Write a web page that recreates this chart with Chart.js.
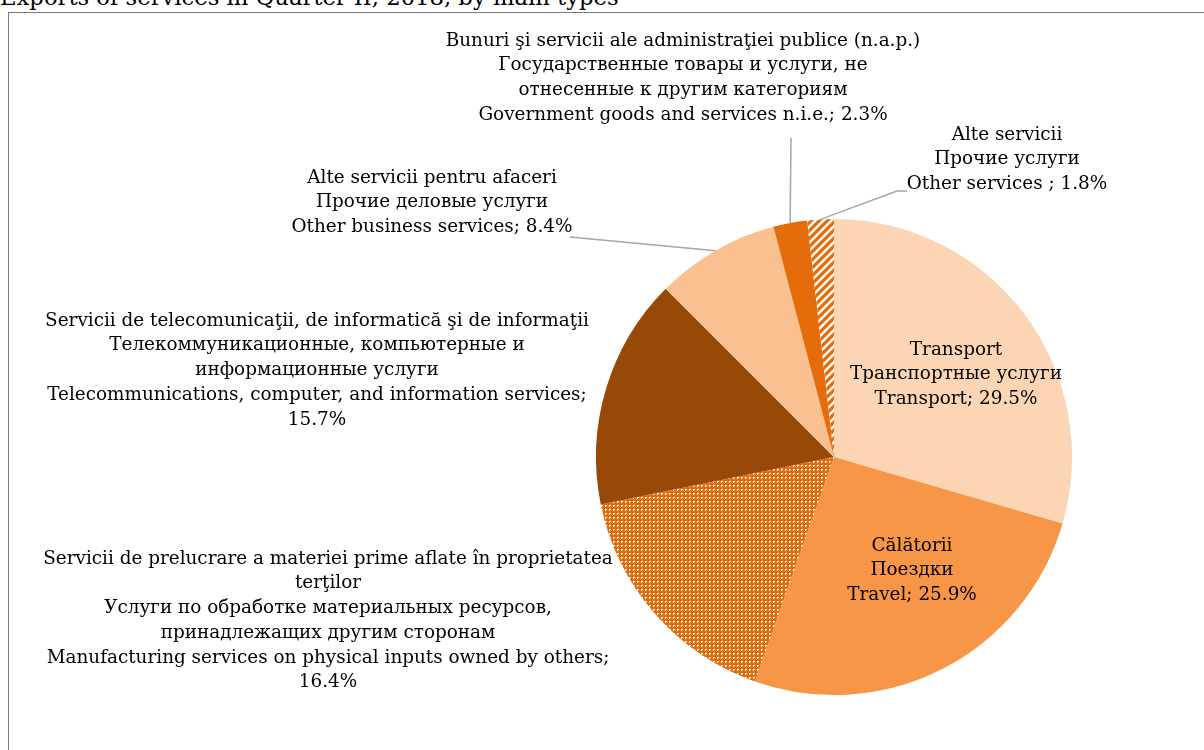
<!DOCTYPE html>
<html>
<head>
<meta charset="utf-8">
<script src="https://cdn.jsdelivr.net/npm/chart.js@4.4.1/dist/chart.umd.min.js"></script>
<style>
  html, body { margin: 0; padding: 0; background: #fff; overflow: hidden; }
  #wrap { position: relative; width: 1204px; height: 750px; }
  #titlu { position: absolute; left: 0; top: -16px; font: 22.7px "DejaVu Serif", serif; color: #000; white-space: nowrap; }
  #rama { position: absolute; left: 8px; top: 12px; width: 1300px; height: 800px; border: 1.5px solid #7a7a7a; box-sizing: border-box; }
  #grafic { position: absolute; left: 0; top: 0; }
</style>
</head>
<body>
<div id="wrap">
  <div id="titlu">Exports of services in Quarter II, 2018, by main types</div>
  <div id="rama"></div>
  <canvas id="grafic" width="1204" height="750"></canvas>
</div>
<script>
// categorii si valori (%)
const categorii = [
    ['Transport', 'Транспортные услуги', 'Transport; 29.5%'],
    ['Călătorii', 'Поездки', 'Travel; 25.9%'],
    ['Servicii de prelucrare a materiei prime aflate în proprietatea', 'terţilor', 'Услуги по обработке материальных ресурсов,', 'принадлежащих другим сторонам', 'Manufacturing services on physical inputs owned by others;', '16.4%'],
    ['Servicii de telecomunicaţii, de informatică şi de informaţii', 'Телекоммуникационные, компьютерные и', 'информационные услуги', 'Telecommunications, computer, and information services;', '15.7%'],
    ['Alte servicii pentru afaceri', 'Прочие деловые услуги', 'Other business services; 8.4%'],
    ['Bunuri şi servicii ale administraţiei publice (n.a.p.)', 'Государственные товары и услуги, не', 'отнесенные к другим категориям', 'Government goods and services n.i.e.; 2.3%'],
    ['Alte servicii', 'Прочие услуги', 'Other services ; 1.8%']
];
const valori = [29.5, 25.9, 16.4, 15.7, 8.4, 2.3, 1.8];

// unde stau etichetele: centru x, y primul rand; linie = punct de plecare al liniei de legatura
const pozEtichete = [
    { x: 956, y: 350 },
    { x: 912, y: 546 },
    { x: 328, y: 559 },
    { x: 317, y: 321 },
    { x: 432, y: 178, linie: [[570, 237]] },
    { x: 683, y: 41, linie: [[791, 138]] },
    { x: 1007, y: 135, linie: [[907, 191], [897, 191]] }
];

const portocaliu = '#E46C0A';

function patternPuncte() {
    const c = document.createElement('canvas');
    c.width = 4; c.height = 4;
    const g = c.getContext('2d');
    g.fillStyle = portocaliu;
    g.fillRect(0, 0, 4, 4);
    g.fillStyle = '#ffffff';
    g.fillRect(1, 1, 2, 1);
    g.fillRect(1, 2, 1, 1);
    return g.createPattern(c, 'repeat');
}

function patternDungi() {
    const c = document.createElement('canvas');
    c.width = 8; c.height = 8;
    const g = c.getContext('2d');
    g.fillStyle = '#ffffff';
    g.fillRect(0, 0, 8, 8);
    g.strokeStyle = portocaliu;
    g.lineWidth = 3.2;
    g.beginPath();
    g.moveTo(-2, 10); g.lineTo(10, -2);
    g.moveTo(-6, 6); g.lineTo(6, -6);
    g.moveTo(2, 14); g.lineTo(14, 2);
    g.stroke();
    return g.createPattern(c, 'repeat');
}

const culori = ['#FCD5B5', '#F79646', patternPuncte(), '#984807', '#FAC090', portocaliu, patternDungi()];

const etichete = {
    id: 'etichete',
    afterDraw(chart) {
        const ctx = chart.ctx;
        const arcs = chart.getDatasetMeta(0).data;
        ctx.save();
        // linii de legatura
        ctx.strokeStyle = '#a6a6a6';
        ctx.lineWidth = 1.5;
        pozEtichete.forEach((p, i) => {
            if (!p.linie) return;
            const a = arcs[i];
            const mij = (a.startAngle + a.endAngle) / 2;
            const ex = a.x + Math.cos(mij) * a.outerRadius;
            const ey = a.y + Math.sin(mij) * a.outerRadius;
            ctx.beginPath();
            ctx.moveTo(p.linie[0][0], p.linie[0][1]);
            for (let k = 1; k < p.linie.length; k++) ctx.lineTo(p.linie[k][0], p.linie[k][1]);
            ctx.lineTo(ex, ey);
            ctx.stroke();
        });
        // texte
        ctx.fillStyle = '#000';
        ctx.font = '18.4px "DejaVu Serif", serif';
        ctx.textAlign = 'center';
        ctx.textBaseline = 'middle';
        categorii.forEach((rows, i) => {
            const p = pozEtichete[i];
            rows.forEach((t, r) => ctx.fillText(t, p.x, p.y + r * 24.7));
        });
        ctx.restore();
    }
};

new Chart(document.getElementById('grafic'), {
    type: 'pie',
    data: {
        labels: categorii.map(c => c[c.length - 1]),
        datasets: [{
            data: valori,
            backgroundColor: culori,
            borderWidth: 0
        }]
    },
    plugins: [etichete],
    options: {
        responsive: false,
        animation: false,
        layout: { padding: { left: 596, right: 132, top: 219, bottom: 55 } },
        plugins: {
            legend: { display: false },
            tooltip: { enabled: false }
        }
    }
});
</script>
</body>
</html>
